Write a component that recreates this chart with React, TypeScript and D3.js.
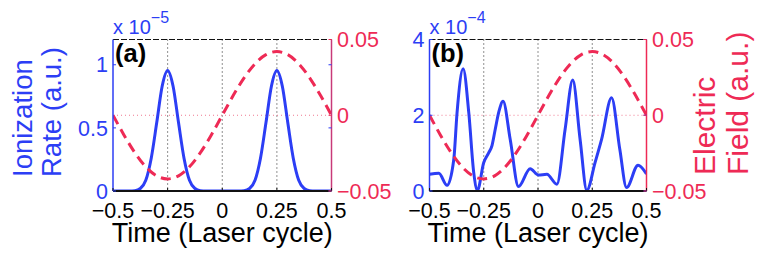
import React from "react";
import * as d3 from "d3";

// ---------- data ----------
const T_FIELD = [-0.5, -0.45, -0.4, -0.35, -0.3, -0.25, -0.2, -0.15, -0.1, -0.05, 0, 0.05, 0.1, 0.15, 0.2, 0.25, 0.3, 0.35, 0.4, 0.45, 0.5];
const FIELD = [0, -0.013, -0.0247, -0.034, -0.04, -0.042, -0.04, -0.034, -0.0247, -0.013, 0, 0.013, 0.0247, 0.034, 0.04, 0.042, 0.04, 0.034, 0.0247, 0.013, 0];

const T_A = [-0.5, -0.475, -0.45, -0.425, -0.4, -0.375, -0.35, -0.325, -0.3, -0.275, -0.25, -0.225, -0.2, -0.175, -0.15, -0.125, -0.1, -0.075, -0.05, -0.025, 0, 0.025, 0.05, 0.075, 0.1, 0.125, 0.15, 0.175, 0.2, 0.225, 0.25, 0.275, 0.3, 0.325, 0.35, 0.375, 0.4, 0.425, 0.45, 0.475, 0.5];
const RATE_A = [0, 0, 0, 0, 0.003, 0.02, 0.085, 0.26, 0.54, 0.83, 0.955, 0.83, 0.54, 0.26, 0.085, 0.02, 0.003, 0, 0, 0, 0, 0, 0, 0, 0.003, 0.02, 0.085, 0.26, 0.54, 0.83, 0.955, 0.83, 0.54, 0.26, 0.085, 0.02, 0.003, 0, 0, 0, 0];

const T_B = [-0.5, -0.457, -0.419, -0.388, -0.373, -0.345, -0.319, -0.296, -0.279, -0.25, -0.228, -0.212, -0.197, -0.18, -0.161, -0.128, -0.09, -0.036, 0.002, 0.041, 0.087, 0.125, 0.16, 0.194, 0.225, 0.263, 0.293, 0.339, 0.377, 0.408, 0.461, 0.5];
const RATE_B = [0.44, 0.47, 0.15, 0.84, 2.07, 3.23, 2.07, 0.48, 0.02, 0.75, 1.0, 1.2, 1.63, 2.1, 2.37, 1.36, 0.12, 0.59, 0.42, 0.44, 0.18, 1.63, 2.93, 1.36, 0.02, 0.75, 1.36, 2.46, 1.1, 0.09, 0.68, 0.45];

const X_TICKS = [-0.5, -0.25, 0, 0.25, 0.5];
const X_TICK_LABELS = ["\u22120.5", "\u22120.25", "0", "0.25", "0.5"];
const A_LEFT_TICKS = [0, 0.5, 1];
const A_LEFT_LABELS = ["0", "0.5", "1"];
const B_LEFT_TICKS = [0, 2, 4];
const B_LEFT_LABELS = ["0", "2", "4"];
const RIGHT_TICKS = [-0.05, 0, 0.05];
const RIGHT_LABELS = ["\u22120.05", "0", "0.05"];

// ---------- style ----------
const FONT = "'Liberation Sans', Arial, Helvetica, sans-serif";
const BLUE = "#2c3ef5";
const RED = "#ee2a55";
const TOP = 39.5;
const BOTTOM = 191;

type PanelProps = {
  id: string;
  x0: number;
  x1: number;
  t: number[];
  rate: number[];
  rateMax: number;
  leftTicks: number[];
  leftLabels: string[];
  exponent: string;
  tag: string;
  rightAxisColor: string;
};

function Panel(p: PanelProps) {
  const x = d3.scaleLinear().domain([-0.5, 0.5]).range([p.x0, p.x1]);
  const yL = d3.scaleLinear().domain([0, p.rateMax]).range([BOTTOM, TOP]);
  const yR = d3.scaleLinear().domain([-0.05, 0.05]).range([BOTTOM, TOP]);

  const rateLine = d3
    .line<number>()
    .x((_, i) => x(p.t[i]))
    .y((v) => yL(v))
    .curve(d3.curveMonotoneX);
  const fieldLine = d3
    .line<number>()
    .x((_, i) => x(T_FIELD[i]))
    .y((v) => yR(v))
    .curve(d3.curveNatural);

  const clipId = "clip-" + p.id;
  return (
    <g>
      <defs>
        <clipPath id={clipId}>
          <rect x={p.x0} y={TOP} width={p.x1 - p.x0} height={BOTTOM - TOP} />
        </clipPath>
      </defs>
      {/* grid */}
      {X_TICKS.slice(1, 4).map((v) => (
        <line key={"g" + v} x1={x(v)} x2={x(v)} y1={TOP} y2={BOTTOM} stroke="#222" strokeWidth={1} strokeDasharray="1,3" />
      ))}
      <line x1={p.x0} x2={p.x1} y1={yR(0)} y2={yR(0)} stroke="#f07890" strokeWidth={1} strokeDasharray="1,3" />
      {/* curves */}
      <g clipPath={`url(#${clipId})`}>
        <path d={rateLine(p.rate) || ""} fill="none" stroke={BLUE} strokeWidth={3} strokeLinejoin="round" />
        <path d={fieldLine(FIELD) || ""} fill="none" stroke={RED} strokeWidth={3} strokeDasharray="10,6" />
      </g>
      {/* axes */}
      <line x1={p.x0} x2={p.x1} y1={TOP} y2={TOP} stroke="#111" strokeWidth={1.2} strokeDasharray="6,2" />
      <line x1={p.x0} x2={p.x1} y1={BOTTOM} y2={BOTTOM} stroke="#111" strokeWidth={1.8} />
      <line x1={p.x0} x2={p.x0} y1={TOP} y2={BOTTOM} stroke={BLUE} strokeWidth={1.5} />
      <line x1={p.x1} x2={p.x1} y1={TOP} y2={BOTTOM} stroke={p.rightAxisColor} strokeWidth={1.5} />
      {X_TICKS.map((v) => (
        <line key={"xt" + v} x1={x(v)} x2={x(v)} y1={BOTTOM} y2={BOTTOM - 3} stroke="#111" strokeWidth={1} />
      ))}
      {p.leftTicks.map((v) => (
        <g key={"lt" + v}>
          <line x1={p.x0} x2={p.x0 + 3} y1={yL(v)} y2={yL(v)} stroke={BLUE} strokeWidth={1} />
          <line x1={p.x1} x2={p.x1 - 3} y1={yL(v)} y2={yL(v)} stroke={BLUE} strokeWidth={1} />
        </g>
      ))}
      {RIGHT_TICKS.map((v) => (
        <line key={"rt" + v} x1={p.x1} x2={p.x1 - 3} y1={yR(v)} y2={yR(v)} stroke={RED} strokeWidth={1} />
      ))}
      {/* tick labels */}
      {X_TICKS.map((v, i) => (
        <text key={"xl" + v} x={x(v)} y={218} textAnchor="middle" fontSize={21.5} fontFamily={FONT} fill="#000">
          {X_TICK_LABELS[i]}
        </text>
      ))}
      {p.leftTicks.map((v, i) => (
        <text key={"ll" + v} x={p.x0 - 5} y={yL(v) + 7.7} textAnchor="end" fontSize={21.5} fontFamily={FONT} fill={BLUE}>
          {p.leftLabels[i]}
        </text>
      ))}
      {RIGHT_TICKS.map((v, i) => (
        <text key={"rl" + v} x={p.x1 + 5.5} y={yR(v) + 7.7} textAnchor="start" fontSize={21.5} fontFamily={FONT} fill={RED}>
          {RIGHT_LABELS[i]}
        </text>
      ))}
      {/* exponent */}
      <text x={p.x0} y={33.5} fontSize={20} fontFamily={FONT} fill={BLUE}>
        x 10
        <tspan dy={-11} fontSize={16}>{p.exponent}</tspan>
      </text>
      {/* panel tag */}
      <text x={p.x0 + 2} y={61.5} fontSize={25.5} fontWeight="bold" fontFamily={FONT} fill="#000">
        {p.tag}
      </text>
      {/* x label */}
      <text x={(p.x0 + p.x1) / 2} y={242} textAnchor="middle" fontSize={27} fontFamily={FONT} fill="#000">
        Time (Laser cycle)
      </text>
    </g>
  );
}

export default function App() {
  React.useEffect(() => {
    document.body.style.margin = "0";
  }, []);
  return (
    <svg width={764} height={253} viewBox="0 0 764 253" style={{ display: "block", background: "#fff" }}>
      <rect width={764} height={253} fill="#fff" />
      <Panel
        id="a"
        x0={113}
        x1={331.5}
        t={T_A}
        rate={RATE_A}
        rateMax={1.2}
        leftTicks={A_LEFT_TICKS}
        leftLabels={A_LEFT_LABELS}
        exponent={"\u22125"}
        tag="(a)"
        rightAxisColor="#c83a78"
      />
      <Panel
        id="b"
        x0={429.5}
        x1={646.5}
        t={T_B}
        rate={RATE_B}
        rateMax={4}
        leftTicks={B_LEFT_TICKS}
        leftLabels={B_LEFT_LABELS}
        exponent={"\u22124"}
        tag="(b)"
        rightAxisColor={RED}
      />
      {/* left y label */}
      <g fontFamily={FONT} fontSize={27.5} fill={BLUE}>
        <text transform="translate(31.5,177) rotate(-90)">Ionization</text>
        <text transform="translate(60.5,177) rotate(-90)">Rate (a.u.)</text>
      </g>
      {/* right y label */}
      <g fontFamily={FONT} fontSize={30} fill={RED}>
        <text transform="translate(715,175) rotate(-90)">Electric</text>
        <text transform="translate(748,175) rotate(-90)">Field (a.u.)</text>
      </g>
    </svg>
  );
}
